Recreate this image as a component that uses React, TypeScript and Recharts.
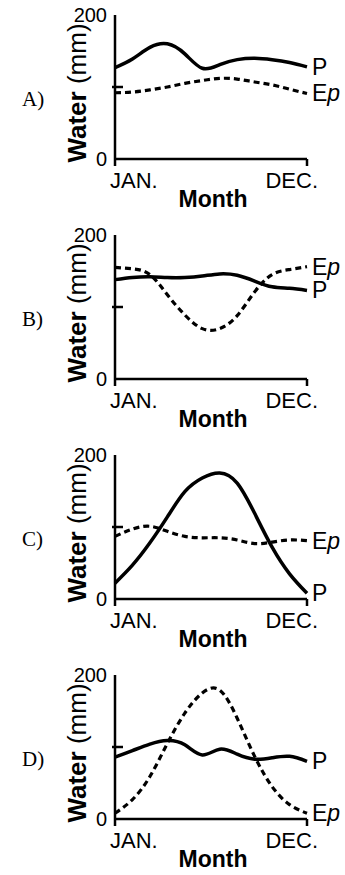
import { LineChart, Line, XAxis, YAxis, Label } from "recharts";

// month index along the x axis (JAN. = 0 ... DEC. = 11)
const months = [0, 1, 2, 3, 4, 5, 6, 7, 8, 9, 10, 11];
const monthTicks = [0, 11];
const monthLabels = ["JAN.", "DEC."];
const waterTicks = [0, 100, 200];
const panelLetters = ["A)", "B)", "C)", "D)"];

// precipitation (P) and potential evapotranspiration (Ep), mm
const pA = [127, 139, 155, 160, 146, 126, 131, 138, 140, 138, 134, 128];
const epA = [92, 93, 96, 100, 105, 109, 112, 111, 107, 103, 97, 91];

const pB = [138, 141, 142, 141, 141, 143, 146, 144, 136, 128, 126, 123];
const epB = [155, 153, 145, 117, 89, 70, 70, 88, 121, 145, 152, 156];

const pC = [22, 47, 78, 114, 149, 168, 175, 161, 119, 72, 35, 8];
const epC = [87, 97, 101, 94, 87, 85, 85, 82, 77, 79, 82, 81];

const pD = [86, 95, 104, 109, 103, 89, 97, 90, 83, 85, 87, 80];
const epD = [8, 27, 59, 105, 147, 175, 179, 140, 87, 45, 20, 8];

const panels = [
  { p: pA, ep: epA },
  { p: pB, ep: epB },
  { p: pC, ep: epC },
  { p: pD, ep: epD },
];

const SANS = "'Liberation Sans', Arial, Helvetica, sans-serif";
const SERIF = "'Liberation Serif', 'Times New Roman', serif";
const last = months.length - 1;

function WaterTick(props: any) {
  const { x, y, payload } = props;
  if (payload.value === 100) {
    return <line x1={x - 3} x2={x + 8} y1={y} y2={y} stroke="#000" strokeWidth={2.5} />;
  }
  return (
    <text x={x - 8} y={y} textAnchor="end" dominantBaseline="central" fontSize={20} fontFamily={SANS} fill="#000">
      {payload.value}
    </text>
  );
}

function MonthTick(props: any) {
  const { x, y, payload, index } = props;
  const first = index === 0;
  return (
    <text
      x={first ? x - 5 : x + 11}
      y={y + 22}
      textAnchor={first ? "start" : "end"}
      fontSize={22}
      fontFamily={SANS}
      fill="#000"
    >
      {monthLabels[monthTicks.indexOf(payload.value)]}
    </text>
  );
}

const endLabel = (kind: "p" | "ep") => (props: any) => {
  const { x, y, index } = props;
  if (index !== last) return <g />;
  return (
    <text x={x + 5} y={y} dominantBaseline="central" fontSize={23} fontFamily={SANS} fill="#000">
      {kind === "p" ? "P" : (
        <>
          E<tspan fontStyle="italic">p</tspan>
        </>
      )}
    </text>
  );
};

function Panel({ p, ep, letter }: { p: number[]; ep: number[]; letter: string }) {
  const data = months.map((m, i) => ({ m, p: p[i], ep: ep[i] }));
  return (
    <LineChart width={345} height={232} data={data} margin={{ top: 25, right: 38, bottom: 33, left: 0 }}>
      <XAxis
        dataKey="m"
        type="number"
        domain={[0, 11]}
        ticks={monthTicks}
        height={30}
        axisLine={{ stroke: "#000", strokeWidth: 2.5 }}
        tickLine={{ stroke: "#000", strokeWidth: 2.5 }}
        tickSize={7}
        tickMargin={0}
        tick={MonthTick}
      >
        <Label
          content={(lp: any) => {
            const vb = lp.viewBox;
            return (
              <text
                x={vb.x + vb.width / 2 + 2}
                y={vb.y + 48}
                textAnchor="middle"
                fontSize={23}
                fontWeight="bold"
                fontFamily={SANS}
                fill="#000"
              >
                Month
              </text>
            );
          }}
        />
      </XAxis>
      <YAxis
        type="number"
        domain={[0, 200]}
        ticks={waterTicks}
        width={115}
        axisLine={{ stroke: "#000", strokeWidth: 2.5 }}
        tickLine={false}
        tickSize={0}
        tickMargin={0}
        tick={WaterTick}
      >
        <Label
          content={(lp: any) => {
            const vb = lp.viewBox;
            const ax = vb.x + vb.width;
            const cy = vb.y + vb.height / 2 + 6;
            return (
              <g>
                <text
                  x={ax - 29}
                  y={cy}
                  transform={`rotate(-90 ${ax - 29} ${cy})`}
                  textAnchor="middle"
                  fontSize={26}
                  fontFamily={SANS}
                  fill="#000"
                >
                  <tspan fontWeight="bold">Water</tspan> (mm)
                </text>
                <text x={ax - 93} y={vb.y + 91} fontSize={21} fontFamily={SERIF} fill="#000">
                  {letter}
                </text>
              </g>
            );
          }}
        />
      </YAxis>
      <Line
        type="natural"
        dataKey="ep"
        stroke="#000"
        strokeWidth={3.2}
        strokeDasharray="6 4"
        dot={false}
        isAnimationActive={false}
        label={endLabel("ep")}
      />
      <Line
        type="natural"
        dataKey="p"
        stroke="#000"
        strokeWidth={3.5}
        dot={false}
        isAnimationActive={false}
        label={endLabel("p")}
      />
    </LineChart>
  );
}

export default function App() {
  return (
    <div style={{ position: "absolute", left: 0, top: 0, width: 345, height: 875, background: "#fff", overflow: "hidden" }}>
      {panels.map((pn, i) => (
        <div key={i} style={{ position: "absolute", left: 0, top: -10 + 220 * i }}>
          <Panel p={pn.p} ep={pn.ep} letter={panelLetters[i]} />
        </div>
      ))}
    </div>
  );
}
